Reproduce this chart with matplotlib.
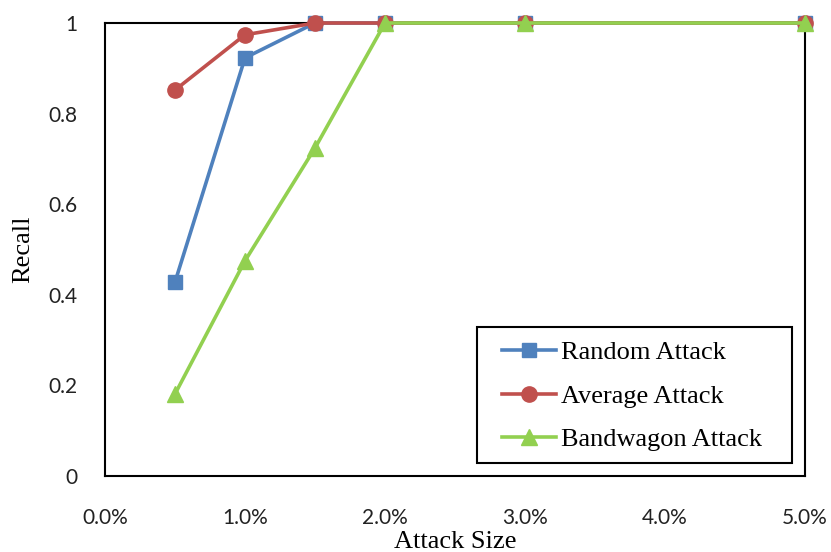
import matplotlib
matplotlib.use("Agg")
import matplotlib.pyplot as plt
from matplotlib.patches import Rectangle
from matplotlib.ticker import FuncFormatter

# Attack size (fraction) and recall for each attack type
attack_sizes = [0.005, 0.010, 0.015, 0.020, 0.030, 0.050]
random_recall = [0.428, 0.923, 1.0, 1.0, 1.0, 1.0]
average_recall = [0.852, 0.974, 1.0, 1.0, 1.0, 1.0]
bandwagon_recall = [0.181, 0.475, 0.724, 1.0, 1.0, 1.0]

x_ticks = [0.0, 0.01, 0.02, 0.03, 0.04, 0.05]
y_ticks = [0, 0.2, 0.4, 0.6, 0.8, 1.0]
y_tick_labels = ["0", "0.2", "0.4", "0.6", "0.8", "1"]

fig = plt.figure(figsize=(8.31, 5.52), dpi=100)
ax = fig.add_axes([105 / 831, 76 / 552, 700 / 831, 453 / 552])

ax.plot(attack_sizes, random_recall, color="#4F81BD", lw=2.6, marker="s",
        ms=10, label="Random Attack", clip_on=False, zorder=3)
ax.plot(attack_sizes, average_recall, color="#C0504D", lw=2.6, marker="o",
        ms=11, label="Average Attack", clip_on=False, zorder=4)
ax.plot(attack_sizes, bandwagon_recall, color="#92D050", lw=2.6, marker="^",
        ms=11, label="Bandwagon Attack", clip_on=False, zorder=5)

ax.set_xlim(0, 0.05)
ax.set_ylim(0, 1)
ax.set_xticks(x_ticks)
ax.xaxis.set_major_formatter(FuncFormatter(lambda v, p: f"{v * 100:.1f}%"))
ax.set_yticks(y_ticks)
ax.set_yticklabels(y_tick_labels)
ax.tick_params(length=0, labelsize=15)
ax.tick_params(axis="x", pad=23)
ax.tick_params(axis="y", pad=20)
for lab in ax.get_xticklabels() + ax.get_yticklabels():
    lab.set_fontfamily("Lato")
    lab.set_color("#222222")

for sp in ax.spines.values():
    sp.set_color("black")
    sp.set_linewidth(1.5)

ax.set_xlabel("Attack Size", fontfamily="Liberation Serif", fontsize=19,
              labelpad=2)
ax.set_ylabel("Recall", fontfamily="Liberation Serif", fontsize=19,
              labelpad=10)

# Legend entries without their own frame, boxed by a wider rectangle
leg = ax.legend(loc="center left", bbox_to_anchor=(397 / 700, 80 / 453),
                prop={"family": "Liberation Serif", "size": 19},
                frameon=False, handlelength=2.05, labelspacing=0.76,
                borderpad=0, handletextpad=0.2, borderaxespad=0)
leg.set_zorder(7)
ax.add_patch(Rectangle((372 / 700, 13 / 453), 315 / 700, 136 / 453,
                       transform=ax.transAxes, facecolor="white",
                       edgecolor="black", linewidth=1.5, zorder=6,
                       clip_on=False))

fig.savefig("out.png", dpi=100)
